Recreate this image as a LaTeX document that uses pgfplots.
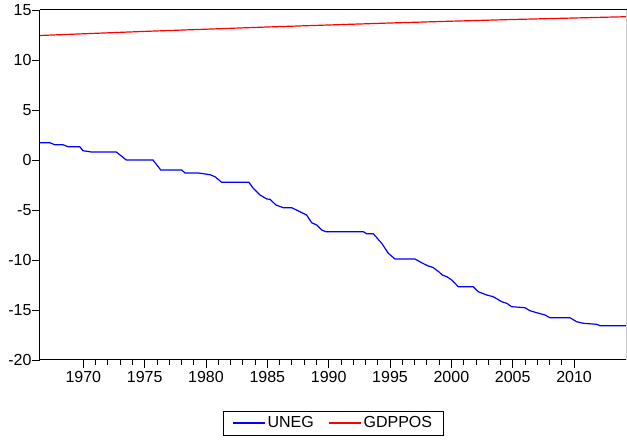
\documentclass[border=0pt]{standalone}
\usepackage{fontspec}
\setmainfont{Liberation Sans}
\usepackage{pgfplots}
\pgfplotsset{compat=1.18}

\begin{document}
\begin{tikzpicture}
\path[use as bounding box] (-40pt,-81pt) rectangle (587pt,360pt);
\begin{axis}[
  at={(0,0)}, anchor=south west,
  scale only axis, width=586.7pt, height=350pt,
  xmin=1966.47, xmax=2014.29, ymin=-20, ymax=15,
  clip=false,
  axis x line=bottom, axis y line=left,
  axis line style={-, line width=1pt, black},
  tick align=outside,
  major tick length=8pt, minor tick length=5pt,
  tick style={black, line width=0.8pt},
  xtick={1970,1975,1980,1985,1990,1995,2000,2005,2010},
  xticklabels={1970,1975,1980,1985,1990,1995,2000,2005,2010},
  minor x tick num=4,
  ytick={-20,-15,-10,-5,0,5,10,15},
  yticklabels={-20,-15,-10,-5,0,5,10,15},
  tick label style={font=\fontsize{16}{19}\selectfont},
  yticklabel style={xshift=3pt},
  legend style={at={(0.5,-0.1457)}, anchor=north, legend columns=2,
    draw=black, font=\fontsize{16}{19}\selectfont,
    inner xsep=9pt, inner ysep=3.5pt,
    /tikz/every even column/.append style={column sep=13pt}},
  legend image code/.code={\draw[#1, line width=1.2pt] (0pt,0pt) -- (31.7pt,0pt);},
]
% unemployment component, cumulated
\addplot[draw=blue, line width=1.2pt] coordinates {
(1966.47,1.73) (1967.26,1.73) (1967.67,1.53) (1968.34,1.53) (1968.75,1.33)
(1969.71,1.33) (1969.97,0.93) (1970.65,0.80) (1972.69,0.80) (1973.50,0.00)
(1975.68,0.00) (1976.31,-1.00) (1978.02,-1.00) (1978.29,-1.30) (1979.37,-1.30)
(1980.33,-1.47) (1980.73,-1.67) (1981.28,-2.23) (1983.50,-2.23) (1983.85,-2.83)
(1984.40,-3.50) (1984.95,-3.90) (1985.22,-3.93) (1985.70,-4.50) (1986.30,-4.77)
(1986.98,-4.77) (1987.66,-5.17) (1988.07,-5.43) (1988.20,-5.50) (1988.61,-6.27)
(1989.02,-6.50) (1989.43,-7.00) (1989.78,-7.17) (1992.82,-7.17) (1993.10,-7.37)
(1993.63,-7.37) (1994.32,-8.33) (1994.86,-9.33) (1995.40,-9.90) (1997.03,-9.90)
(1997.66,-10.33) (1998.12,-10.60) (1998.50,-10.75) (1999.00,-11.20) (1999.25,-11.50)
(1999.62,-11.67) (2000.03,-12.00) (2000.56,-12.67) (2001.78,-12.67) (2002.19,-13.17)
(2002.87,-13.50) (2003.41,-13.67) (2004.10,-14.17) (2004.51,-14.33) (2004.91,-14.67)
(2005.99,-14.77) (2006.40,-15.07) (2006.95,-15.27) (2007.63,-15.50) (2008.03,-15.77)
(2009.66,-15.77) (2010.21,-16.17) (2010.75,-16.33) (2011.84,-16.43) (2012.11,-16.57)
(2014.29,-16.57)
};
\addlegendentry{UNEG}
% log GDP
\addplot[draw=red, line width=1.2pt] coordinates {
(1966.47,12.45) (1970,12.62) (1975,12.86) (1980,13.08) (1985,13.30)
(1990,13.50) (1995,13.70) (2000,13.88) (2005,14.05) (2010,14.20) (2014.29,14.33)
};
\addlegendentry{GDPPOS}
\draw[black, line width=1pt] (rel axis cs:0,1) -- (rel axis cs:1,1);
\draw[gray!40, line width=1pt] (rel axis cs:1,0) -- (rel axis cs:1,1);
\end{axis}
\end{tikzpicture}
\end{document}
